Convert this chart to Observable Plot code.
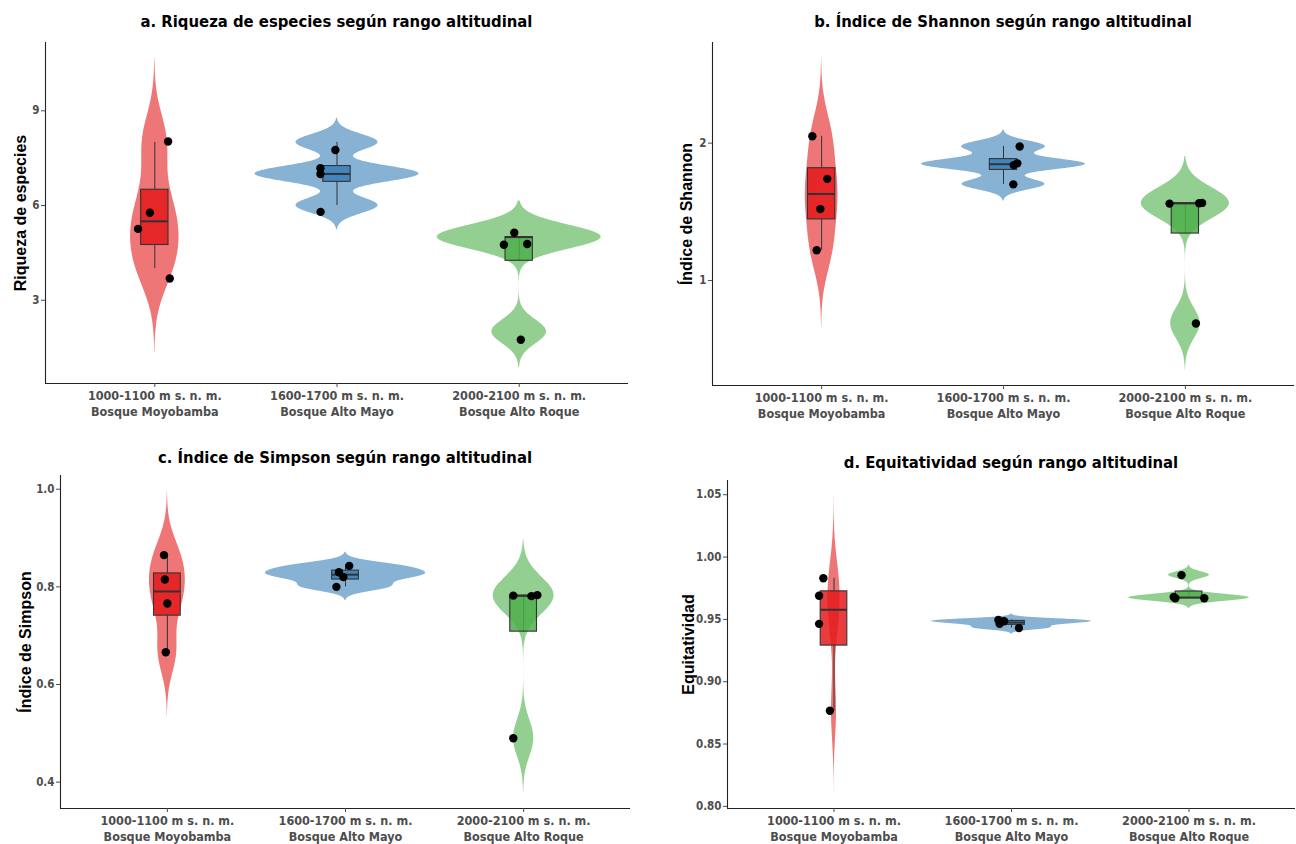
<!DOCTYPE html>
<html><head><meta charset="utf-8">
<script src="https://cdn.jsdelivr.net/npm/d3@7"></script>
<script src="https://cdn.jsdelivr.net/npm/@observablehq/plot@0.6"></script>
<style>
body{margin:0;background:#fff;}
#root{position:relative;width:1296px;height:844px;overflow:hidden;background:#fff;}
.panel{position:absolute;}
.title{position:absolute;font-family:"Liberation Sans Narrow","DejaVu Sans Condensed",sans-serif;font-weight:bold;font-size:16.5px;color:#000;white-space:nowrap;transform:translate(-50%,-50%);}
svg [aria-label="x-axis tick label"], svg [aria-label="y-axis tick label"]{fill:#4d4d4d;}
svg [aria-label="x-axis tick"], svg [aria-label="y-axis tick"]{stroke:#4d4d4d;}
</style></head><body><div id="root"></div>
<script>
// ---------- data ----------
const categories = ["1000-1100 m s. n. m.\nBosque Moyobamba", "1600-1700 m s. n. m.\nBosque Alto Mayo", "2000-2100 m s. n. m.\nBosque Alto Roque"];
const groupColors = ["#E41A1C", "#377EB8", "#4DAF4A"];

// a. Riqueza de especies
const riquezaValues = [[4, 5, 6, 8], [6, 7, 7, 8], [2, 5, 5, 5]];
const riquezaPointsY = [[8.03, 5.77, 5.26, 3.69], [7.76, 7.18, 7.0, 5.8], [5.14, 4.76, 4.78, 1.75]];
const riquezaJitterX = [[0.073, -0.027, -0.092, 0.082], [-0.009, -0.091, -0.091, -0.09], [-0.027, -0.084, 0.044, 0.009]];
const riquezaTicks = [3, 6, 9];

// b. Shannon
const shannonValues = [[2.05, 1.74, 1.52, 1.22], [1.976, 1.853, 1.84, 1.70], [1.56, 1.563, 1.565, 0.688]];
const shannonJitterX = [[-0.051, 0.031, -0.007, -0.027], [0.089, 0.076, 0.056, 0.054], [-0.087, 0.076, 0.092, 0.058]];
const shannonTicks = [1, 2];

// c. Simpson
const simpsonValues = [[0.865, 0.815, 0.766, 0.666], [0.843, 0.830, 0.820, 0.800], [0.782, 0.781, 0.783, 0.49]];
const simpsonJitterX = [[-0.019, -0.014, 0, -0.009], [0.021, -0.037, -0.012, -0.051], [-0.058, 0.044, 0.077, -0.058]];
const simpsonTicks = [0.4, 0.6, 0.8, 1.0];

// d. Equitatividad
const equitValues = [[0.983, 0.969, 0.9464, 0.8767], [0.9495, 0.9485, 0.9465, 0.943], [0.9855, 0.968, 0.967, 0.967]];
const equitJitterX = [[-0.06, -0.084, -0.084, -0.023], [-0.074, -0.042, -0.067, 0.042], [-0.042, -0.086, -0.077, 0.086]];
const equitTicks = [0.80, 0.85, 0.90, 0.95, 1.00, 1.05];

const titles = ["a. Riqueza de especies según rango altitudinal", "b. Índice de Shannon según rango altitudinal", "c. Índice de Simpson según rango altitudinal", "d. Equitatividad según rango altitudinal"];
const yLabels = ["Riqueza de especies", "Índice de Shannon", "Índice de Simpson", "Equitatividad"];

// ---------- stats (as ggplot: violin trim=FALSE scale="area", boxplot) ----------
function kde(vals) {
  const n = vals.length;
  const s = vals.slice().sort(d3.ascending);
  const sd = d3.deviation(s);
  const iqr = d3.quantileSorted(s, 0.75) - d3.quantileSorted(s, 0.25);
  let lo = Math.min(sd, iqr / 1.34);
  if (!(lo > 0)) lo = sd || 1;
  const bw = 0.9 * lo * Math.pow(n, -0.2);
  const a = s[0] - 3 * bw, b = s[n - 1] + 3 * bw;
  const out = [];
  const N = 512;
  for (let i = 0; i < N; i++) {
    const y = a + (b - a) * i / (N - 1);
    let dens = 0;
    for (const v of s) { const z = (y - v) / bw; dens += Math.exp(-0.5 * z * z); }
    dens /= (n * bw * Math.sqrt(2 * Math.PI));
    out.push({y, dens});
  }
  return out;
}
function boxStats(vals) {
  const s = vals.slice().sort(d3.ascending);
  const q1 = d3.quantileSorted(s, 0.25), med = d3.quantileSorted(s, 0.5), q3 = d3.quantileSorted(s, 0.75);
  const iqr = q3 - q1;
  const lowF = q1 - 1.5 * iqr, hiF = q3 + 1.5 * iqr;
  const lower = d3.min(s.filter(v => v >= lowF));
  const upper = d3.max(s.filter(v => v <= hiF));
  return {q1, med, q3, lower, upper};
}

// ---------- panel ----------
const FONT_N = '"Liberation Sans Narrow","DejaVu Sans Condensed",sans-serif';
function makePanel(cfg) {
  const {values, pointsY, jitterX, ticks, fmt, title, ylabel, left, top, width, height, m, ylabDx} = cfg;
  const dens = values.map(kde);
  const maxD = d3.max(dens.flat(), d => d.dens);
  const violin = [];
  dens.forEach((arr, g) => arr.forEach(d => {
    const w = 0.45 * d.dens / maxD;
    violin.push({g, y: d.y, x1: g + 1 - w, x2: g + 1 + w, fill: groupColors[g]});
  }));
  const boxes = values.map((v, g) => ({g, ...boxStats(v), fill: groupColors[g]}));
  const pts = [];
  pointsY.forEach((arr, g) => arr.forEach((y, i) => pts.push({x: g + 1 + jitterX[g][i], y})));
  const allY = violin.map(d => d.y).concat(pts.map(d => d.y));
  const y0 = d3.min(allY), y1 = d3.max(allY), span = y1 - y0;
  const yDom = [y0 - 0.05 * span, y1 + 0.05 * span];
  const bw = 0.075;

  const plot = Plot.plot({
    width, height,
    marginLeft: m[3], marginRight: m[1], marginTop: m[0], marginBottom: m[2],
    x: {domain: [0.4, 3.6], axis: null},
    y: {domain: yDom, axis: null},
    color: {type: "identity"},
    style: {fontFamily: FONT_N, fontWeight: "bold", fontSize: "12px", background: "transparent", overflow: "visible"},
    marks: [
      Plot.areaX(violin, {y: "y", x1: "x1", x2: "x2", z: "g", fill: "fill", fillOpacity: 0.6, curve: "linear"}),
      Plot.ruleX(boxes, {x: d => d.g + 1, y1: "q3", y2: "upper", stroke: "#333", strokeWidth: 1}),
      Plot.ruleX(boxes, {x: d => d.g + 1, y1: "lower", y2: "q1", stroke: "#333", strokeWidth: 1}),
      Plot.rect(boxes, {x1: d => d.g + 1 - bw, x2: d => d.g + 1 + bw, y1: "q1", y2: "q3", fill: "fill", fillOpacity: 0.85, stroke: "#333", strokeWidth: 1.1}),
      Plot.ruleY(boxes, {y: "med", x1: d => d.g + 1 - bw, x2: d => d.g + 1 + bw, stroke: "#333", strokeWidth: 2}),
      Plot.dot(pts, {x: "x", y: "y", r: 4.2, fill: "#000", stroke: "none"}),
      Plot.ruleX([0.4], {stroke: "#222", strokeWidth: 1.1}),
      Plot.ruleY([yDom[0]], {stroke: "#222", strokeWidth: 1.1}),
      Plot.axisX({ticks: [1, 2, 3], tickFormat: i => categories[i - 1], tickSize: 4, tickPadding: 1, fontSize: 12.5, lineHeight: 1.3, label: null}),
      Plot.axisY({ticks, tickFormat: fmt, tickSize: 4, tickPadding: 2, fontSize: 11.5, label: null}),
      Plot.text([ylabel], {text: d => d, frameAnchor: "left", dx: ylabDx, rotate: -90, textAnchor: "middle", fontSize: 16, fontWeight: "bold", fontFamily: '"Liberation Sans",Arial,sans-serif', fill: "#000"})
    ]
  });
  const div = document.createElement("div");
  div.className = "panel";
  div.style.left = left + "px"; div.style.top = top + "px";
  div.appendChild(plot);
  document.getElementById("root").appendChild(div);
  const t = document.createElement("div");
  t.className = "title";
  t.textContent = title;
  t.style.left = (left + m[3] + (width - m[3] - m[1]) / 2) + "px";
  t.style.top = cfg.titleY + "px";
  document.getElementById("root").appendChild(t);
}

makePanel({values: riquezaValues, pointsY: riquezaPointsY, jitterX: riquezaJitterX, ticks: riquezaTicks, fmt: d3.format("d"),
  title: titles[0], ylabel: yLabels[0], left: 0, top: 0, width: 648, height: 430, m: [42, 20, 47, 45], ylabDx: -25, titleY: 21});
makePanel({values: shannonValues, pointsY: shannonValues, jitterX: shannonJitterX, ticks: shannonTicks, fmt: d3.format("d"),
  title: titles[1], ylabel: yLabels[1], left: 648, top: 0, width: 648, height: 430, m: [42, 2, 45, 64], ylabDx: -26, titleY: 21});
makePanel({values: simpsonValues, pointsY: simpsonValues, jitterX: simpsonJitterX, ticks: simpsonTicks, fmt: d3.format(".1f"),
  title: titles[2], ylabel: yLabels[2], left: 0, top: 430, width: 648, height: 414, m: [45, 18, 36, 60], ylabDx: -35, titleY: 457});
makePanel({values: equitValues, pointsY: equitValues, jitterX: equitJitterX, ticks: equitTicks, fmt: d3.format(".2f"),
  title: titles[3], ylabel: yLabels[3], left: 648, top: 430, width: 648, height: 414, m: [50, 1, 36, 79], ylabDx: -39, titleY: 462});
</script></body></html>
